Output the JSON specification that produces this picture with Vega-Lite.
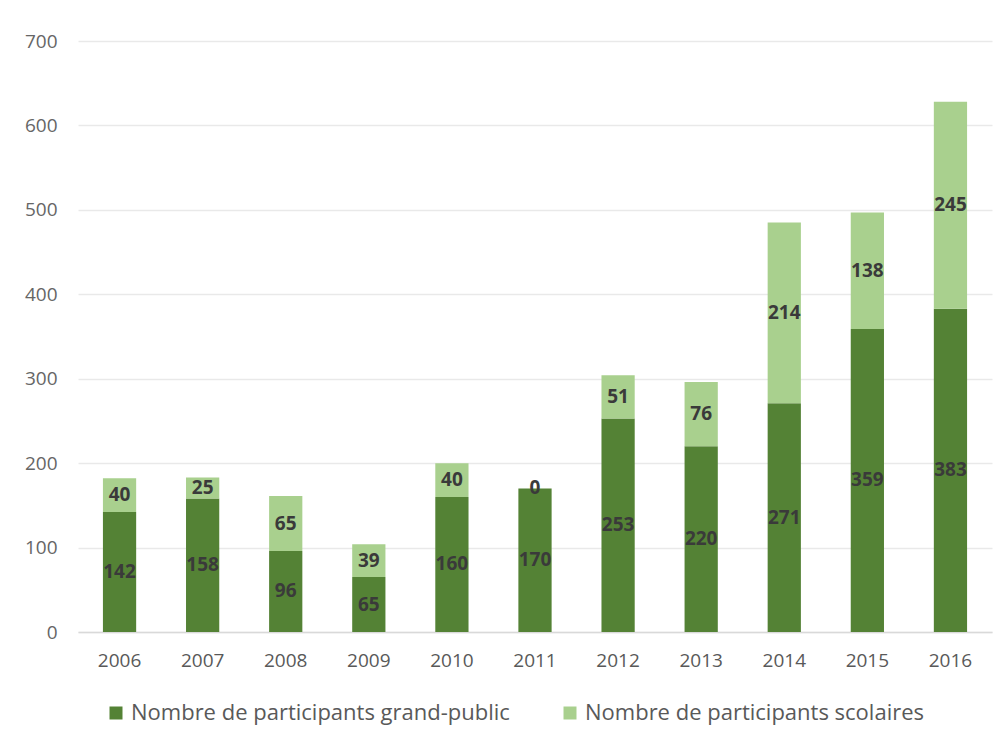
{
  "$schema": "https://vega.github.io/schema/vega-lite/v6.json",
  "width": 914,
  "height": 591,
  "autosize": {"type": "none"},
  "padding": {"left": 78, "top": 41, "right": 12, "bottom": 115},
  "background": "white",
  "config": {
    "view": {"stroke": null},
    "font": "Open Sans"
  },
  "data": {
    "values": [
      {"year": "2006", "serie": "Nombre de participants grand-public", "value": 142},
      {"year": "2007", "serie": "Nombre de participants grand-public", "value": 158},
      {"year": "2008", "serie": "Nombre de participants grand-public", "value": 96},
      {"year": "2009", "serie": "Nombre de participants grand-public", "value": 65},
      {"year": "2010", "serie": "Nombre de participants grand-public", "value": 160},
      {"year": "2011", "serie": "Nombre de participants grand-public", "value": 170},
      {"year": "2012", "serie": "Nombre de participants grand-public", "value": 253},
      {"year": "2013", "serie": "Nombre de participants grand-public", "value": 220},
      {"year": "2014", "serie": "Nombre de participants grand-public", "value": 271},
      {"year": "2015", "serie": "Nombre de participants grand-public", "value": 359},
      {"year": "2016", "serie": "Nombre de participants grand-public", "value": 383},
      {"year": "2006", "serie": "Nombre de participants scolaires", "value": 40},
      {"year": "2007", "serie": "Nombre de participants scolaires", "value": 25},
      {"year": "2008", "serie": "Nombre de participants scolaires", "value": 65},
      {"year": "2009", "serie": "Nombre de participants scolaires", "value": 39},
      {"year": "2010", "serie": "Nombre de participants scolaires", "value": 40},
      {"year": "2011", "serie": "Nombre de participants scolaires", "value": 0},
      {"year": "2012", "serie": "Nombre de participants scolaires", "value": 51},
      {"year": "2013", "serie": "Nombre de participants scolaires", "value": 76},
      {"year": "2014", "serie": "Nombre de participants scolaires", "value": 214},
      {"year": "2015", "serie": "Nombre de participants scolaires", "value": 138},
      {"year": "2016", "serie": "Nombre de participants scolaires", "value": 245}
    ]
  },
  "transform": [
    {"stack": "value", "groupby": ["year"], "sort": [{"field": "serie", "order": "ascending"}], "as": ["y0", "y1"]},
    {"calculate": "(datum.y0 + datum.y1) / 2", "as": "ymid"}
  ],
  "encoding": {
    "x": {
      "field": "year", "type": "ordinal",
      "scale": {"paddingInner": 0.6, "paddingOuter": 0.3},
      "axis": {
        "title": null, "labelAngle": 0, "ticks": false,
        "domainColor": "#d9d9d9", "domainWidth": 1.5,
        "labelColor": "#595959", "labelFontSize": 19, "labelPadding": 19,
        "labelFont": "Open Sans"
      }
    }
  },
  "layer": [
    {
      "mark": {"type": "bar"},
      "encoding": {
        "y": {
          "field": "y0", "type": "quantitative",
          "scale": {"domain": [0, 700]},
          "axis": {
            "title": null, "values": [0, 100, 200, 300, 400, 500, 600, 700],
            "ticks": false, "domain": false,
            "gridColor": "#e9e9e9", "gridWidth": 1.5,
            "labelColor": "#666666", "labelFontSize": 19, "labelPadding": 21,
            "labelFont": "Open Sans"
          }
        },
        "y2": {"field": "y1"},
        "color": {
          "field": "serie", "type": "nominal",
          "scale": {
            "domain": ["Nombre de participants grand-public", "Nombre de participants scolaires"],
            "range": ["#548235", "#a9d08e"]
          },
          "legend": {
            "title": null, "orient": "none", "direction": "horizontal",
            "legendX": 27, "legendY": 661,
            "symbolType": "square", "symbolSize": 169, "symbolStrokeWidth": 0,
            "labelOffset": 4,
            "labelFontSize": 22, "labelColor": "#595959", "labelFont": "Open Sans",
            "columnPadding": 49, "labelLimit": 600
          }
        }
      }
    },
    {
      "mark": {"type": "text", "fontSize": 19, "fontWeight": "bold", "color": "#3a3a3a", "baseline": "middle"},
      "encoding": {
        "y": {"field": "ymid", "type": "quantitative"},
        "text": {"field": "value", "type": "quantitative"}
      }
    }
  ]
}
